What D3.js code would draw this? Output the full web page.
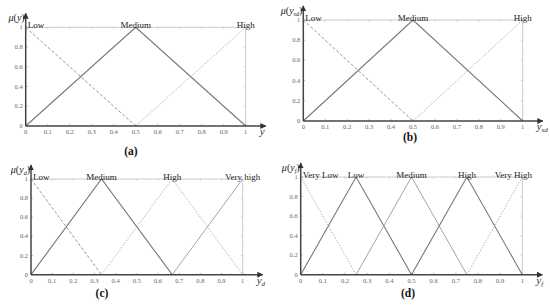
<!DOCTYPE html>
<html>
<head>
<meta charset="utf-8">
<script src="https://cdn.jsdelivr.net/npm/d3@7"></script>
<style>
  body { margin: 0; background: #fff; }
  svg { display: block; }
</style>
</head>
<body>
<svg id="chart" width="550" height="306"></svg>
<script>
// tick values shared by all four panels
const xTicks = [0, 0.1, 0.2, 0.3, 0.4, 0.5, 0.6, 0.7, 0.8, 0.9, 1];
const yTicks = [0, 0.2, 0.4, 0.6, 0.8, 1];

// (a) output y
const namesA = ['Low', 'Medium', 'High'];
const peaksA = [0, 0.5, 1];
const setsA = [
    [[0, 1], [0.5, 0]],
    [[0, 0], [0.5, 1], [1, 0]],
    [[0.5, 0], [1, 1]]
];

// (b) y_sd
const namesB = ['Low', 'Medium', 'High'];
const peaksB = [0, 0.5, 1];
const setsB = [
    [[0, 1], [0.5, 0]],
    [[0, 0], [0.5, 1], [1, 0]],
    [[0.5, 0], [1, 1]]
];

// (c) y_d
const namesC = ['Low', 'Medium', 'High', 'Very high'];
const peaksC = [0, 0.333, 0.667, 1];
const setsC = [
    [[0, 1], [0.333, 0]],
    [[0, 0], [0.333, 1], [0.667, 0]],
    [[0.333, 0], [0.667, 1], [1, 0]],
    [[0.667, 0], [1, 1]]
];

// (d) y_f
const namesD = ['Very Low', 'Low', 'Medium', 'High', 'Very High'];
const peaksD = [0, 0.25, 0.5, 0.75, 1];
const setsD = [
    [[0, 1], [0.25, 0]],
    [[0, 0], [0.25, 1], [0.5, 0]],
    [[0.25, 0], [0.5, 1], [0.75, 0]],
    [[0.5, 0], [0.75, 1], [1, 0]],
    [[0.75, 0], [1, 1]]
];

// line styles
const st = {
    dash: { stroke: '#888', dash: '3,2', w: 0.9 },
    solid: { stroke: '#777', dash: null, w: 1.1 },
    light: { stroke: '#9a9a9a', dash: null, w: 0.9 },
    dot: { stroke: '#aaa', dash: '1.5,1.5', w: 0.9 }
};

const panels = [
    { names: namesA, peaks: peaksA, sets: setsA, styles: [st.dash, st.solid, st.dot],
      x0: 25.7, x1: 245.7, y0: 126, y1: 27.3, sub: '', cap: '(a)', capX: 131, capY: 155, lastShift: 0 },
    { names: namesB, peaks: peaksB, sets: setsB, styles: [st.dash, st.solid, st.dot],
      x0: 303.3, x1: 522.7, y0: 121, y1: 20, sub: 'sd', cap: '(b)', capX: 410, capY: 141, lastShift: 0 },
    { names: namesC, peaks: peaksC, sets: setsC, styles: [st.dash, st.solid, st.dot, st.light],
      x0: 31, x1: 242.7, y0: 274.7, y1: 179, sub: 'd', cap: '(c)', capX: 102, capY: 297, lastShift: 0 },
    { names: namesD, peaks: peaksD, sets: setsD, styles: [st.dot, st.solid, st.light, st.solid, st.dot],
      x0: 300.7, x1: 522.3, y0: 274.7, y1: 177, sub: 'f', cap: '(d)', capX: 408, capY: 297, lastShift: -9 }
];

const svg = d3.select('#chart');

const defs = svg.append('defs');
defs.append('marker')
    .attr('id', 'arrow')
    .attr('viewBox', '0 0 10 10')
    .attr('refX', 9)
    .attr('refY', 5)
    .attr('markerWidth', 4)
    .attr('markerHeight', 4)
    .attr('orient', 'auto')
    .append('path')
    .attr('d', 'M0,0 L10,5 L0,10 z')
    .attr('fill', '#333');

const serif = 'Liberation Serif, DejaVu Serif, serif';

function drawPanel(p) {
    const g = svg.append('g');
    const x = d3.scaleLinear().domain([0, 1]).range([p.x0, p.x1]);
    const y = d3.scaleLinear().domain([0, 1]).range([p.y0, p.y1]);

    // frame top and right
    g.append('line')
        .attr('x1', x(0)).attr('x2', x(1)).attr('y1', y(1)).attr('y2', y(1))
        .attr('stroke', '#bbb').attr('stroke-width', 0.8);
    g.append('line')
        .attr('x1', x(1)).attr('x2', x(1)).attr('y1', y(0)).attr('y2', y(1))
        .attr('stroke', '#bbb').attr('stroke-width', 0.8);

    // small inner ticks
    g.selectAll('.xt').data(xTicks).enter().append('line')
        .attr('x1', d => x(d)).attr('x2', d => x(d))
        .attr('y1', y(0)).attr('y2', y(0) - 2)
        .attr('stroke', '#999').attr('stroke-width', 0.6);
    g.selectAll('.xt2').data(xTicks).enter().append('line')
        .attr('x1', d => x(d)).attr('x2', d => x(d))
        .attr('y1', y(1)).attr('y2', y(1) + 2)
        .attr('stroke', '#bbb').attr('stroke-width', 0.6);
    g.selectAll('.yt').data(yTicks).enter().append('line')
        .attr('x1', x(0)).attr('x2', x(0) + 2)
        .attr('y1', d => y(d)).attr('y2', d => y(d))
        .attr('stroke', '#999').attr('stroke-width', 0.6);
    g.selectAll('.yt2').data(yTicks).enter().append('line')
        .attr('x1', x(1)).attr('x2', x(1) - 2)
        .attr('y1', d => y(d)).attr('y2', d => y(d))
        .attr('stroke', '#bbb').attr('stroke-width', 0.6);

    // tick labels
    g.selectAll('.xl').data(xTicks).enter().append('text')
        .attr('x', d => x(d))
        .attr('y', y(0) + 8)
        .attr('text-anchor', 'middle')
        .style('font-family', serif)
        .style('font-size', '6.5px')
        .attr('fill', '#666')
        .text(d => d3.format('~g')(d));
    g.selectAll('.yl').data(yTicks).enter().append('text')
        .attr('x', x(0) - 3)
        .attr('y', d => y(d) + 2)
        .attr('text-anchor', 'end')
        .style('font-family', serif)
        .style('font-size', '6.5px')
        .attr('fill', '#666')
        .text(d => d3.format('~g')(d));

    // membership functions
    const line = d3.line().x(d => x(d[0])).y(d => y(d[1]));
    p.sets.forEach((s, i) => {
        const sty = p.styles[i];
        g.append('path')
            .attr('d', line(s))
            .attr('fill', 'none')
            .attr('stroke', sty.stroke)
            .attr('stroke-width', sty.w)
            .attr('stroke-dasharray', sty.dash);
    });

    // axes with arrows
    g.append('line')
        .attr('x1', x(0)).attr('y1', y(0))
        .attr('x2', x(1) + 20).attr('y2', y(0))
        .attr('stroke', '#444').attr('stroke-width', 1.5)
        .attr('marker-end', 'url(#arrow)');
    g.append('line')
        .attr('x1', x(0)).attr('y1', y(0))
        .attr('x2', x(0)).attr('y2', y(1) - 14)
        .attr('stroke', '#444').attr('stroke-width', 1.5)
        .attr('marker-end', 'url(#arrow)');

    // set names
    p.names.forEach((n, i) => {
        const first = i === 0;
        const last = i === p.names.length - 1;
        g.append('text')
            .attr('x', first ? x(p.peaks[i]) + 2 : x(p.peaks[i]) + (last ? p.lastShift : 0))
            .attr('y', y(1) + 1)
            .attr('text-anchor', first ? 'start' : 'middle')
            .style('font-family', serif)
            .style('font-size', '9px')
            .attr('fill', '#222')
            .text(n);
    });

    // axis names
    const yl = g.append('text')
        .attr('x', x(0) - 1)
        .attr('y', y(1) - 6)
        .attr('text-anchor', 'end')
        .style('font-family', serif)
        .style('font-size', '10px')
        .attr('fill', '#222');
    yl.append('tspan').style('font-style', 'italic').text('μ');
    yl.append('tspan').text('(');
    yl.append('tspan').style('font-style', 'italic').text('y');
    if (p.sub) yl.append('tspan').attr('dy', 2).style('font-size', '6px').style('font-style', 'italic').text(p.sub);
    yl.append('tspan').attr('dy', p.sub ? -2 : 0).text(')');

    const xl = g.append('text')
        .attr('x', x(1) + 14)
        .attr('y', y(0) + 9)
        .style('font-family', serif)
        .style('font-size', '11px')
        .style('font-style', 'italic')
        .attr('fill', '#333');
    xl.append('tspan').text('y');
    if (p.sub) xl.append('tspan').attr('dy', 2).style('font-size', '7px').text(p.sub);

    // caption
    g.append('text')
        .attr('x', p.capX)
        .attr('y', p.capY)
        .attr('text-anchor', 'middle')
        .style('font-family', serif)
        .style('font-size', '11.5px')
        .style('font-weight', 'bold')
        .attr('fill', '#111')
        .text(p.cap);
}

panels.forEach(drawPanel);
</script>
</body>
</html>
